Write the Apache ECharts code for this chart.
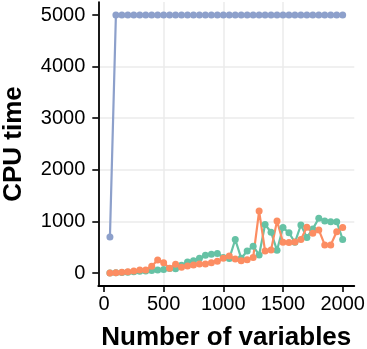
<!DOCTYPE html>
<html>
<head>
<meta charset="utf-8">
<script src="https://cdn.jsdelivr.net/npm/echarts@6/dist/echarts.min.js"></script>
<style>
html,body{margin:0;padding:0;background:#fff;}
#chart{width:367px;height:349px;}
</style>
</head>
<body>
<div id="chart"></div>
<script>
var xValues = [50,100,150,200,250,300,350,400,450,500,550,600,650,700,750,800,850,900,950,1000,
  1050,1100,1150,1200,1250,1300,1350,1400,1450,1500,1550,1600,1650,1700,1750,1800,1850,1900,1950,2000];
var blueSeries = [700,5000,5000,5000,5000,5000,5000,5000,5000,5000,5000,5000,5000,5000,5000,5000,5000,5000,5000,5000,
  5000,5000,5000,5000,5000,5000,5000,5000,5000,5000,5000,5000,5000,5000,5000,5000,5000,5000,5000,5000];
var greenSeries = [0,5,10,15,25,35,40,50,60,70,85,80,150,215,235,285,345,365,380,300,
  280,650,285,425,520,350,940,790,440,880,780,595,930,690,855,1060,1010,995,995,650];
var orangeSeries = [0,5,15,25,40,60,60,130,250,200,90,170,110,135,155,175,175,200,230,285,
  330,270,235,255,300,1200,425,445,1010,595,590,600,650,885,770,835,545,545,800,880];
var xTicks = [0,500,1000,1500,2000];
var yTicks = [0,1000,2000,3000,4000,5000];

function pairs(vals){ return xValues.map(function(x,i){ return [x, vals[i]]; }); }
function plain(v){ return String(v); }

var chart = echarts.init(document.getElementById('chart'), null, {renderer:'canvas'});
var font = 'Liberation Sans, Arial, Helvetica, sans-serif';
chart.setOption({
  animation:false,
  backgroundColor:'#ffffff',
  grid:{left:98.3, right:12.7, top:2.1, bottom:63.1, containLabel:false, outerBoundsMode:'none'},
  xAxis:{
    type:'value', min:-47.5, max:2097.5,
    name:'Number of variables', nameLocation:'middle', nameGap:39,
    nameTextStyle:{fontFamily:font, fontSize:26, fontWeight:'bold', color:'#000'},
    axisLine:{show:true, onZero:false, lineStyle:{color:'#000', width:1.8}},
    axisTick:{show:true, customValues:xTicks, length:6, lineStyle:{color:'#000', width:1.6}},
    axisLabel:{customValues:xTicks, formatter:plain, margin:9, fontFamily:font, fontSize:20, color:'#000'},
    splitLine:{show:true, customValues:xTicks, showMinLine:false, showMaxLine:false, lineStyle:{color:'#EBEBEB', width:1.5}}
  },
  yAxis:{
    type:'value', min:-250, max:5250,
    name:'CPU time', nameLocation:'middle', nameGap:71,
    nameTextStyle:{fontFamily:font, fontSize:26, fontWeight:'bold', color:'#000'},
    axisLine:{show:true, onZero:false, lineStyle:{color:'#000', width:1.8}},
    axisTick:{show:true, customValues:yTicks, length:6, lineStyle:{color:'#000', width:1.6}},
    axisLabel:{customValues:yTicks, formatter:plain, margin:13, fontFamily:font, fontSize:20, color:'#000'},
    splitLine:{show:true, customValues:yTicks, showMinLine:false, showMaxLine:false, lineStyle:{color:'#EBEBEB', width:1.5}}
  },
  series:[
    {type:'line', data:pairs(blueSeries), symbol:'circle', symbolSize:7, color:'#8DA0CB',
      lineStyle:{width:2.2}, itemStyle:{color:'#8DA0CB'}},
    {type:'line', data:pairs(greenSeries), symbol:'circle', symbolSize:7, color:'#66C2A5',
      lineStyle:{width:2.2}, itemStyle:{color:'#66C2A5'}},
    {type:'line', data:pairs(orangeSeries), symbol:'circle', symbolSize:7, color:'#FC8D62',
      lineStyle:{width:2.2}, itemStyle:{color:'#FC8D62'}}
  ]
});
</script>
</body>
</html>
